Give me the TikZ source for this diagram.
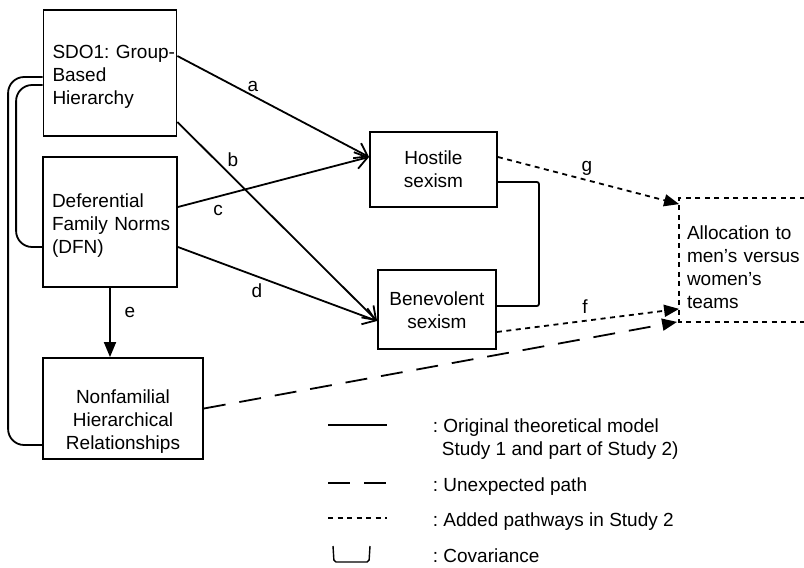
\documentclass[tikz,border=0pt]{standalone}
\usepackage{fontspec}
\setmainfont{Liberation Sans}
\usetikzlibrary{arrows.meta}
\usetikzlibrary{positioning}

\tikzset{
  var/.style={draw, line width=1.8pt, inner xsep=9pt, inner ysep=0pt},
  orig/.style={line width=1.8pt, -{Straight Barb[length=12pt,width=17pt]}},
  added/.style={line width=1.8pt, dash pattern=on 5pt off 4.5pt},
  unexp/.style={line width=1.8pt, dash pattern=on 22pt off 14pt},
  filled/.style={-{Triangle[length=15pt,width=12pt]}},
  cov/.style={line width=1.8pt, rounded corners=16pt},
  lab/.style={inner sep=0pt}
}

\begin{document}
\begin{tikzpicture}[x=1pt, y=-1pt, line width=1.8pt, font=\fontsize{19}{23}\selectfont\frenchspacing]
\useasboundingbox (0,0) rectangle (804,568);
\node[var, align=left, text width=115pt, minimum height=126pt] (sdo) at (110,73) {\rule{0pt}{20pt}\mbox{SDO1: Group-}\\Based\\Hierarchy};
\node[var, align=left, text width=116pt, minimum height=130pt] (dfn) at (110,222) {\rule{0pt}{20pt}Deferential\\\mbox{Family Norms}\\(DFN)};
\node[var, align=center, minimum width=160pt, minimum height=101pt] (nonfam) at (123,408.5) {\rule{0pt}{40pt}Nonfamilial\\Hierarchical\\Relationships};
\node[var, align=center, minimum width=127pt, minimum height=75pt] (host) at (433.5,169.5) {Hostile\\sexism};
\node[var, align=center, minimum width=118pt, minimum height=79pt] (bene) at (437,309.5) {\rule{0pt}{16pt}Benevolent\\sexism};
\node[align=left, inner xsep=7pt, inner ysep=0pt, text width=110pt, minimum height=122pt] (alloc) at (742,260) {\rule{0pt}{28pt}\mbox{Allocation to}\\\mbox{men’s versus}\\women’s\\teams};
\draw[added] (alloc.north east) -- (alloc.north west) -- (alloc.south west) -- (alloc.south east);
\draw[orig] ([yshift=17pt]sdo.east) -- ([yshift=12.5pt]host.west);
\draw[orig] ([yshift=-49pt]sdo.east) -- ([yshift=-11.5pt]bene.west);
\draw[orig] ([yshift=15pt]dfn.east) -- ([yshift=12.5pt]host.west);
\draw[orig] ([yshift=-25pt]dfn.east) -- ([yshift=-11.5pt]bene.west);
\draw[filled] (dfn.south) -- (dfn.south |- nonfam.north);
\draw[added, filled] ([yshift=12.5pt]host.east) -- ([yshift=-6pt]alloc.north west);
\draw[added, filled] ([yshift=-22.5pt]bene.east) -- ([yshift=13pt]alloc.south west);
\draw[unexp, filled] (nonfam.east) -- ([xshift=-2pt]alloc.south west);
\draw[cov] ([yshift=-4pt]sdo.west) -| ([xshift=-34pt,yshift=-36.5pt]nonfam.west) -- ([yshift=-36.5pt]nonfam.west);
\draw[cov] ([yshift=-12pt]sdo.west) -| ([xshift=-26pt,yshift=-25pt]dfn.west) -- ([yshift=-25pt]dfn.west);
\draw[cov, rounded corners=2pt] ([yshift=-12.5pt]host.east) -| ([xshift=42pt,yshift=3.5pt]bene.east) -- ([yshift=3.5pt]bene.east);
\node[lab] (la) at (253,86) {a};
\node[lab] (lb) at (233,160) {b};
\node[lab] (lc) at (218,210) {c};
\node[lab] (ld) at (257,291) {d};
\node[lab] (le) at (130,312) {e};
\node[lab] (lf) at (585,307) {f};
\node[lab] (lg) at (587,168) {g};
\draw (328,425) -- (387,425);
\draw[unexp] (328,483) -- (387,483);
\draw[added] (328,518) -- (387,518);
\draw[line width=1.4pt, rounded corners=2pt] (333,546) -- (334,562) -- (369,562) -- (370,546);
\node[lab, anchor=base west, align=left] (korig) at (432,455) {: Original theoretical model\\\hspace{9pt}Study 1 and part of Study 2)};
\node[lab, anchor=base west] (kunexp) at (432,491) {: Unexpected path};
\node[lab, anchor=base west] (kadded) at (432,526) {: Added pathways in Study 2};
\node[lab, anchor=base west] (kcov) at (432,562) {: Covariance};
\end{tikzpicture}
\end{document}
